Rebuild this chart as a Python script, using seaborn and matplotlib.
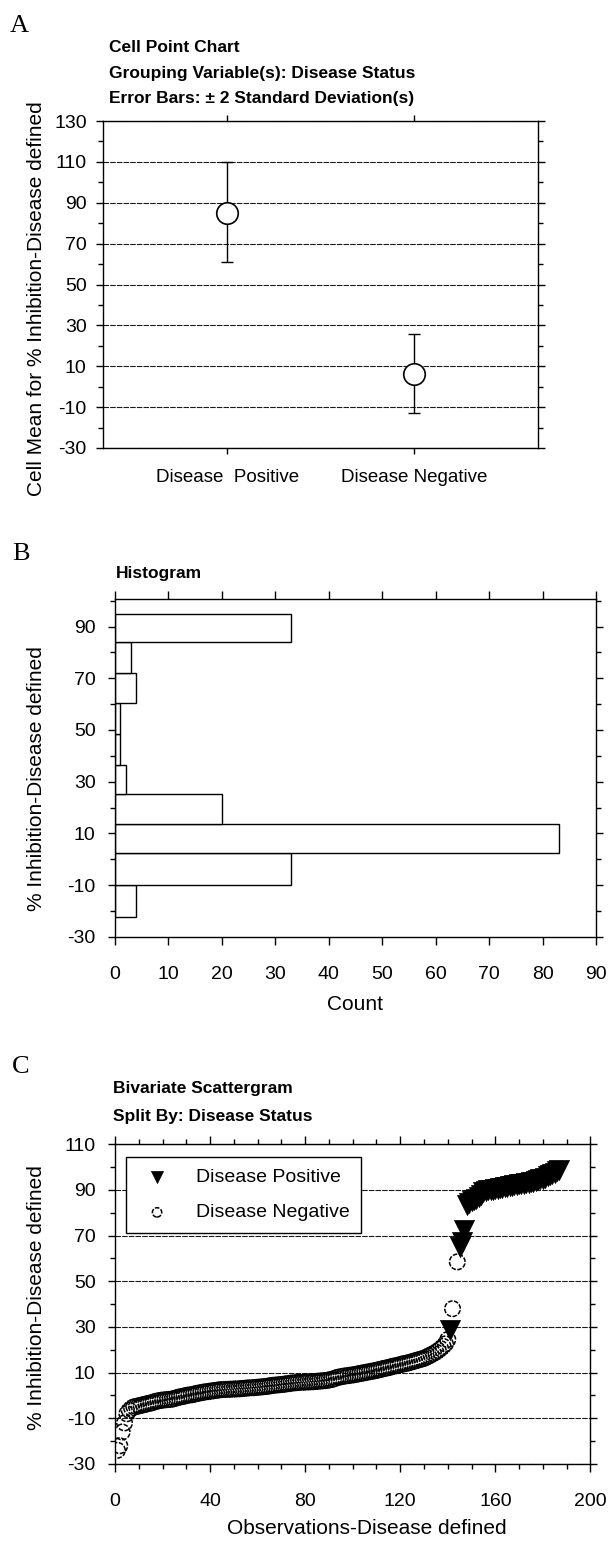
import numpy as np
import matplotlib
matplotlib.use('Agg')
import matplotlib.pyplot as plt
import seaborn as sns

# ── Panel A: cell means with ±2 SD error bars ───────────────────────────────
groups     = ['Disease  Positive', 'Disease Negative']
cell_means = [85, 6]
bar_low    = [61, -13]
bar_high   = [110, 26]

# ── Panel B: histogram of % inhibition ──────────────────────────────────────
bin_edges  = [-22.3, -10.0, 2.3, 13.5, 25.3, 36.5, 48.4, 60.3, 72.2, 84.1, 94.8]
bin_counts = [4, 33, 83, 20, 2, 1, 1, 4, 3, 33]

# ── Panel C: ranked observations split by disease status ────────────────────
neg_obs = list(range(1, 141)) + [142, 144]
neg_val = [
    -24.0, -22.0, -16.0, -12.0, -8.0, -6.5, -5.5, -5.0, -4.8, -4.5,
    -4.3, -4.0, -3.8, -3.5, -3.3, -3.0, -2.6, -2.4, -2.2, -2.0,
    -1.9, -1.8, -1.7, -1.6, -1.3, -1.0, -0.7, -0.5, -0.3, 0.0,
    0.2, 0.3, 0.5, 0.8, 1.0, 1.2, 1.4, 1.6, 1.7, 1.9,
    2.0, 2.2, 2.3, 2.5, 2.6, 2.6, 2.7, 2.7, 2.8, 2.8,
    2.9, 2.9, 3.0, 3.1, 3.2, 3.3, 3.4, 3.4, 3.5, 3.6,
    3.7, 3.8, 3.9, 4.0, 4.2, 4.4, 4.5, 4.6, 4.7, 4.8,
    4.9, 5.1, 5.2, 5.4, 5.5, 5.6, 5.7, 5.8, 5.8, 5.9,
    5.9, 6.0, 6.0, 6.1, 6.2, 6.3, 6.4, 6.5, 6.6, 6.8,
    7.0, 7.3, 7.7, 8.0, 8.2, 8.4, 8.6, 8.7, 8.9, 9.0,
    9.2, 9.4, 9.6, 9.8, 10.0, 10.2, 10.4, 10.6, 10.8, 11.0,
    11.3, 11.5, 11.8, 12.0, 12.2, 12.5, 12.8, 13.0, 13.2, 13.5,
    13.8, 14.0, 14.2, 14.5, 14.8, 15.1, 15.4, 15.7, 16.0, 16.3,
    16.8, 17.3, 17.8, 18.4, 19.0, 19.7, 20.5, 21.5, 22.6, 24.5,
    38.0, 58.5,
]
pos_obs = [141, 145, 146, 147] + list(range(148, 188))
pos_val = [
    28.5, 65.0, 67.0, 72.5,
    83.5, 84.5, 85.0, 85.5, 86.0, 87.0, 88.0, 89.0, 89.5, 89.8,
    90.0, 90.2, 90.4, 90.6, 90.8, 91.0, 91.2, 91.4, 91.6, 91.8,
    92.0, 92.2, 92.4, 92.6, 92.8, 93.0, 93.2, 93.4, 93.7, 94.0,
    94.3, 94.6, 95.0, 95.4, 95.9, 96.5, 97.0, 97.6, 98.2, 98.8,
]

# ─────────────────────────────────────────────────────────────────────────────

sns.set_theme(style='ticks')
plt.rcParams['font.family'] = ['Liberation Sans', 'DejaVu Sans']
plt.rcParams.update({
    'axes.linewidth': 1.0,
    'axes.unicode_minus': False,
    'text.color': 'black',
    'axes.labelcolor': 'black',
    'xtick.color': 'black',
    'ytick.color': 'black',
    'axes.edgecolor': 'black',
})

W, H = 611, 1541
fig = plt.figure(figsize=(W / 100, H / 100), dpi=100)


def px_rect(left, top, right, bottom):
    return [left / W, 1 - bottom / H, (right - left) / W, (bottom - top) / H]


def fig_text(x, y, s, **kw):
    fig.text(x / W, 1 - y / H, s, va='baseline', ha='left', **kw)


def style_axis(ax, ymajor, yminor):
    ax.set_yticks(ymajor)
    ax.set_yticks(yminor, minor=True)
    ax.tick_params(axis='y', which='both', left=True, right=True,
                   direction='out', labelsize=14, pad=7)
    ax.tick_params(axis='y', which='major', length=5, width=1)
    ax.tick_params(axis='y', which='minor', length=3.5, width=1)
    ax.tick_params(axis='x', which='both', top=True, bottom=True,
                   direction='out', labelsize=14, width=1)
    for sp in ax.spines.values():
        sp.set_visible(True)
        sp.set_linewidth(1.0)


grid_kw = dict(color='0.1', linewidth=0.8, linestyle=(0, (5, 1)))
serif = ['Liberation Serif', 'DejaVu Serif']

# ── A ────────────────────────────────────────────────────────────────────────
axA = fig.add_axes(px_rect(103.3, 121, 537.8, 448))
sns.scatterplot(x=groups, y=cell_means, marker='o', s=240,
                facecolor='white', edgecolor='black', linewidth=1.2,
                zorder=4, ax=axA)
yerr = [np.subtract(cell_means, bar_low), np.subtract(bar_high, cell_means)]
axA.errorbar(groups, cell_means, yerr=yerr, fmt='none', ecolor='black',
             elinewidth=1.0, capsize=4.5, capthick=1.0, zorder=3)
axA.set_xlim(-0.663, 1.663)
axA.set_ylim(-30, 130)
style_axis(axA, range(-30, 131, 20), range(-20, 121, 20))
axA.tick_params(axis='x', length=4, pad=11, labelsize=13.5)
axA.grid(axis='y', which='major', **grid_kw)
axA.set_axisbelow(True)
axA.set_xlabel('')
axA.set_ylabel('Cell Mean for % Inhibition-Disease defined', fontsize=15,
               va='center')
axA.yaxis.set_label_coords((36 - 103.3) / 434.5, (448 - 298.5) / 327)

fig_text(10, 32, 'A', family=serif, fontsize=19)
fig_text(109, 52, 'Cell Point Chart', fontsize=12.5, fontweight='bold')
fig_text(109, 78, 'Grouping Variable(s): Disease Status', fontsize=12.5,
         fontweight='bold')
fig_text(109, 103, 'Error Bars: \u00b1 2 Standard Deviation(s)', fontsize=12.5,
         fontweight='bold')

# ── B ────────────────────────────────────────────────────────────────────────
axB = fig.add_axes(px_rect(115, 599, 596, 936.7))
edges = np.array(bin_edges)
sns.histplot(y=(edges[:-1] + edges[1:]) / 2, weights=bin_counts,
             bins=bin_edges, color='white', edgecolor='black',
             linewidth=1.0, alpha=1, ax=axB)
axB.set_xlim(0, 90)
axB.set_ylim(-30, 100.7)
style_axis(axB, range(-30, 91, 20), range(-20, 101, 20))
axB.set_xticks(range(0, 91, 10))
axB.tick_params(axis='y', pad=9)
axB.tick_params(axis='x', length=6, pad=15)
axB.set_xlabel('Count', fontsize=15, va='center')
axB.xaxis.set_label_coords(0.5, (936.7 - 1005) / 337.7)
axB.set_ylabel('% Inhibition-Disease defined', fontsize=15, va='center')
axB.yaxis.set_label_coords((37 - 115) / 481, (936.7 - 779) / 337.7)

fig_text(12, 560, 'B', family=serif, fontsize=19)
fig_text(116, 578, 'Histogram', fontsize=12.5, fontweight='bold')

# ── C ────────────────────────────────────────────────────────────────────────
axC = fig.add_axes(px_rect(115, 1144.3, 590.4, 1464))
sns.scatterplot(x=neg_obs, y=neg_val, marker='o', s=125, facecolors='none',
                edgecolor='black', linewidth=1.1, linestyle=(0, (3, 1)),
                label='Disease Negative', zorder=3, ax=axC)
sns.scatterplot(x=pos_obs, y=pos_val, marker='v', s=210, color='black',
                edgecolor='black', linewidth=0.5,
                label='Disease Positive', zorder=4, ax=axC)
axC.set_xlim(0, 200)
axC.set_ylim(-30, 110)
style_axis(axC, range(-30, 111, 20), range(-20, 101, 20))
axC.set_xticks(range(0, 201, 40))
axC.set_xticks(range(0, 201, 10), minor=True)
axC.tick_params(axis='y', pad=9)
axC.tick_params(axis='x', which='major', length=6, pad=15)
axC.tick_params(axis='x', which='minor', length=3.5)
axC.grid(axis='y', which='major', **grid_kw)
axC.set_axisbelow(True)
axC.set_xlabel('Observations-Disease defined', fontsize=15, va='center')
axC.xaxis.set_label_coords(0.53, (1464 - 1528) / 319.7)
axC.set_ylabel('% Inhibition-Disease defined', fontsize=15, va='center')
axC.yaxis.set_label_coords((37 - 115) / 475.4, (1464 - 1297.5) / 319.7)

handles, labels = axC.get_legend_handles_labels()
leg = axC.legend(handles[::-1], labels[::-1], loc='upper left',
                 bbox_to_anchor=(0.023, 0.96), borderaxespad=0,
                 frameon=True, fancybox=False, edgecolor='black',
                 framealpha=1, fontsize=14, markerscale=0.6,
                 handletextpad=1.0, labelspacing=0.9, borderpad=0.6)
leg.get_frame().set_linewidth(1.0)

fig_text(12, 1073, 'C', family=serif, fontsize=19)
fig_text(113, 1093, 'Bivariate Scattergram', fontsize=12.5, fontweight='bold')
fig_text(113, 1121, 'Split By: Disease Status', fontsize=12.5,
         fontweight='bold')

fig.savefig('out.png', dpi=100, facecolor='white')
